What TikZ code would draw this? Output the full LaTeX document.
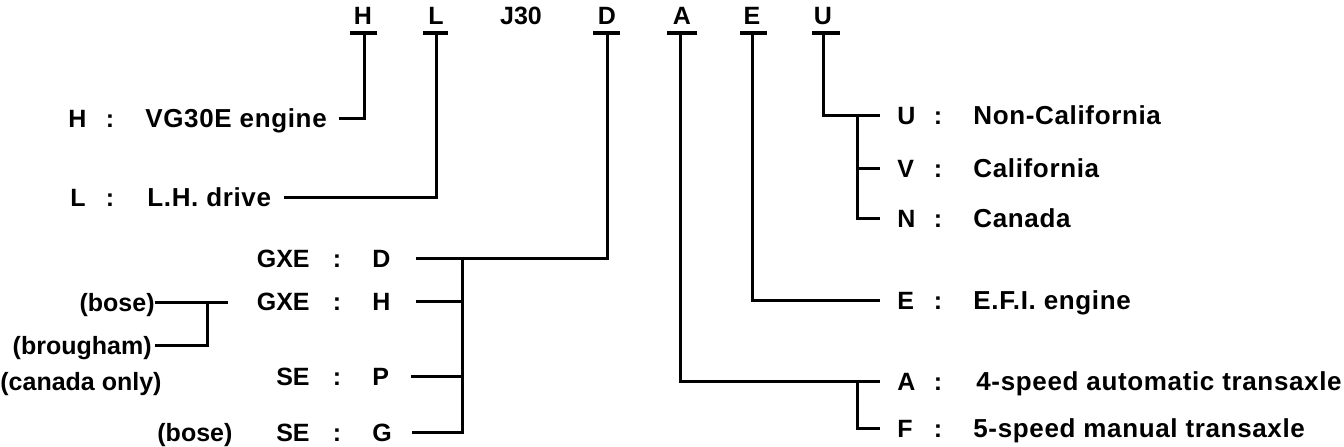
\documentclass[tikz,border=0pt]{standalone}
\usepackage{fontspec}
\setmainfont{Liberation Sans}
\newfontfamily\descfont{Liberation Sans}[LetterSpace=2.5]
\usepackage{tikz}

\tikzset{
	lbl/.style = {font=\bfseries\fontsize{12.5}{14}\selectfont, inner sep=0pt, text height=9pt, text depth=0pt},
	desc/.style = {lbl, anchor=west, font=\descfont\bfseries\fontsize{13}{15}\selectfont},
	wire/.style = {line width=1.5pt},
	tbar/.style = {line width=2pt}
}

\begin{document}
\begin{tikzpicture}[x=0.5pt, y=-0.5pt]
	\useasboundingbox (0,0) rectangle (1344,446);
	\node[lbl] (tH) at (363,15) {H};
	\node[lbl] (tL) at (436,15) {L};
	\node[lbl] (tJ) at (521,15) {J30};
	\node[lbl] (tD) at (607,15) {D};
	\node[lbl] (tA) at (682,15) {A};
	\node[lbl] (tE) at (752,15) {E};
	\node[lbl] (tU) at (823,15) {U};
	\coordinate (bH) at (364,33);
	\coordinate (bL) at (436,33);
	\coordinate (bD) at (607,33);
	\coordinate (bA) at (680,33);
	\coordinate (bE) at (752,33);
	\coordinate (bU) at (823,33);
	\draw[tbar] (bH) ++(-14,0) -- ++(27,0);
	\draw[tbar] (bL) ++(-13,0) -- ++(25,0);
	\draw[tbar] (bD) ++(-14,0) -- ++(27,0);
	\draw[tbar] (bA) ++(-13,0) -- ++(30,0);
	\draw[tbar] (bE) ++(-12,0) -- ++(27,0);
	\draw[tbar] (bU) ++(-11,0) -- ++(28,0);

	\node[lbl, anchor=west] (hKey) at (68,118) {H};
	\node[lbl] (hCol) at (110,118) {:};
	\node[desc] (hDesc) at (145,118) {VG30E engine};
	\node[lbl, anchor=west] (lKey) at (70,197) {L};
	\node[lbl] (lCol) at (110,197) {:};
	\node[desc] (lDesc) at (147,197) {L.H. drive};
	\draw[wire] (bH) |- ([xshift=6pt]hDesc.east);
	\draw[wire] (bL) |- ([xshift=6.5pt]lDesc.east);

	\node[lbl, anchor=east] (gD) at (310,258) {GXE};
	\node[lbl] (cD) at (337,258) {:};
	\node[lbl, anchor=west] (kD) at (372,258) {D};
	\node[lbl, anchor=east] (gH) at (310,301) {GXE};
	\node[lbl] (cH) at (337,301) {:};
	\node[lbl, anchor=west] (kH) at (372,301) {H};
	\node[lbl, anchor=east] (gP) at (310,376) {SE};
	\node[lbl] (cP) at (337,376) {:};
	\node[lbl, anchor=west] (kP) at (372,376) {P};
	\node[lbl, anchor=east] (gG) at (310,432) {SE};
	\node[lbl] (cG) at (337,432) {:};
	\node[lbl, anchor=west] (kG) at (372,432) {G};
	\coordinate (jD) at (462,258);
	\draw[wire] (bD) |- ([xshift=12.5pt]kD.east);
	\draw[wire] (jD) |- ([xshift=10pt]kG.east);
	\draw[wire] ([xshift=12.5pt]kH.east) -- (kH.east -| jD);
	\draw[wire] ([xshift=11pt]kP.east) -- (kP.east -| jD);

	\node[lbl, anchor=east] (boseH) at (155,302) {(bose)};
	\node[lbl, anchor=east] (brough) at (152,345) {(brougham)};
	\node[lbl, anchor=west] (canada) at (0,381) {(canada only)};
	\node[lbl, anchor=west] (boseG) at (157,432) {(bose)};
	\coordinate (jB) at (207,302);
	\coordinate (bEnd) at (228,302);
	\draw[wire] (boseH.east) -- (bEnd);
	\draw[wire] (jB) |- ([xshift=1.5pt]brough.east);

	\node[lbl, anchor=west] (kU) at (897,115) {U};
	\node[lbl] (cU) at (938,115) {:};
	\node[desc] (dU) at (973,115) {Non-California};
	\node[lbl, anchor=west] (kV) at (897,168) {V};
	\node[lbl] (cV) at (938,168) {:};
	\node[desc] (dV) at (973,168) {California};
	\node[lbl, anchor=west] (kN) at (897,218) {N};
	\node[lbl] (cN) at (938,218) {:};
	\node[desc] (dN) at (973,218) {Canada};
	\node[lbl, anchor=west] (kE) at (897,300) {E};
	\node[lbl] (cE) at (938,300) {:};
	\node[desc] (dE) at (973,300) {E.F.I. engine};
	\node[lbl, anchor=west] (kA) at (897,381) {A};
	\node[lbl] (cA) at (938,381) {:};
	\node[desc] (dA) at (976,381) {4-speed automatic transaxle};
	\node[lbl, anchor=west] (kF) at (897,428) {F};
	\node[lbl] (cF) at (938,428) {:};
	\node[desc] (dF) at (973,428) {5-speed manual transaxle};
	\coordinate (jU) at (857,115);
	\coordinate (jA) at (857,381);
	\draw[wire] (bU) |- ([xshift=-8.5pt]kU.west);
	\draw[wire] (jU) |- ([xshift=-8.5pt]kN.west);
	\draw[wire] (kV.west -| jU) -- ([xshift=-8.5pt]kV.west);
	\draw[wire] (bE) |- ([xshift=-8.5pt]kE.west);
	\draw[wire] (bA) |- ([xshift=-8.5pt]kA.west);
	\draw[wire] (jA) |- ([xshift=-8.5pt]kF.west);
\end{tikzpicture}
\end{document}
